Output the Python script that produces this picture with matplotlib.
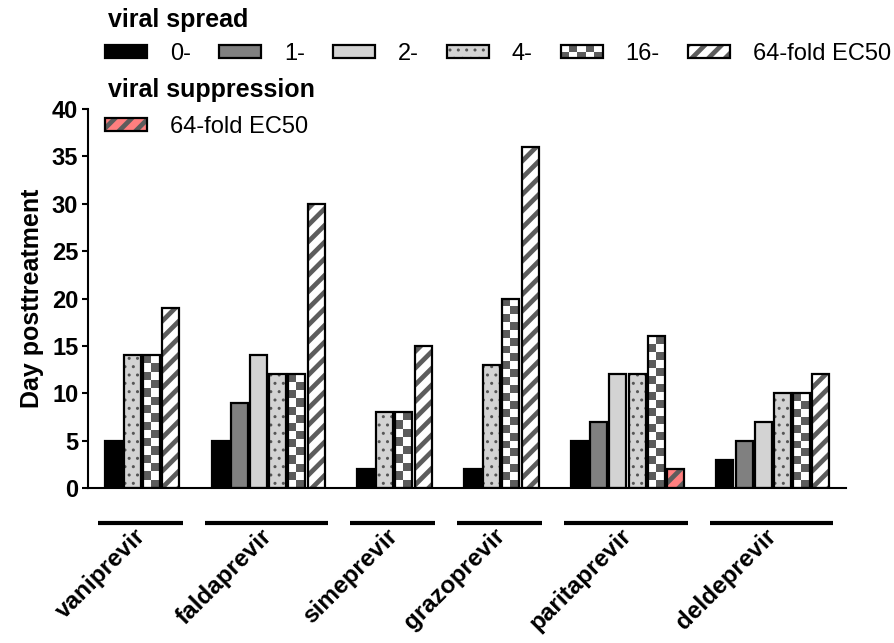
import matplotlib
matplotlib.use('Agg')
import matplotlib.pyplot as plt
import matplotlib.transforms as mtransforms
from matplotlib.colors import ListedColormap
from matplotlib.patches import Rectangle
from matplotlib.legend_handler import HandlerBase
import numpy as np

plt.rcParams['font.family'] = ['Liberation Sans', 'DejaVu Sans']

# ---------------- data ----------------
drugs = ['vaniprevir', 'faldaprevir', 'simeprevir', 'grazoprevir', 'paritaprevir', 'deldeprevir']
series_labels = ['0-', '1-', '2-', '4-', '16-', '64-fold EC50']
supp_label = '64-fold EC50'

spread_0 = [5, 5, 2, 2, 5, 3]
spread_1 = [None, 9, None, None, 7, 5]
spread_2 = [None, 14, None, None, 12, 7]
spread_4 = [14, 12, 8, 13, 12, 10]
spread_16 = [14, 12, 8, 20, 16, 10]
spread_64 = [19, 30, 15, 36, None, 12]
suppression_64 = [None, None, None, None, 2, None]

all_series = [spread_0, spread_1, spread_2, spread_4, spread_16, spread_64, suppression_64]

# ---------------- styles ----------------
DARK = '#5c5c5c'
styles = [
    dict(face='black'),
    dict(face='#808080'),
    dict(face='#d3d3d3'),
    dict(face='#d3d3d3', hatch='..', hc='#555555', hlw=1.0),
    dict(face='white', checker=True),
    dict(face='white', hatch='//', hc=DARK, hlw=3.4),
    dict(face='#ff7f7f', hatch='//', hc=DARK, hlw=3.4),
]

BAR_W = 0.885
GROUP_GAP = 1.59
EDGE_LW = 1.6


def set_hlw(p, lw):
    try:
        p.set_hatch_linewidth(lw)
    except Exception:
        pass


fig = plt.figure(figsize=(8.95, 6.43), dpi=100)
ax = fig.add_axes([88 / 895, 1 - 488 / 643, (846 - 88) / 895, (488 - 109) / 643])

group_spans = []
cursor = 0.0
for g in range(len(drugs)):
    start = cursor
    for s_idx, ser in enumerate(all_series):
        v = ser[g]
        if v is None:
            continue
        st = styles[s_idx]
        left = cursor
        if st.get('checker'):
            nrows = max(1, int(round(v / 0.85)))
            arr = (np.indices((nrows, 2)).sum(0) % 2)
            ax.imshow(arr, cmap=ListedColormap(['white', DARK]), origin='lower',
                      extent=(left, left + BAR_W, 0, v), aspect='auto',
                      interpolation='nearest', zorder=1)
        elif st.get('hatch'):
            bars = ax.bar(left, v, BAR_W, align='edge', color=st['face'],
                          edgecolor=st['hc'], linewidth=0, hatch=st['hatch'], zorder=1)
            for b in bars:
                set_hlw(b, st['hlw'])
        else:
            ax.bar(left, v, BAR_W, align='edge', color=st['face'], linewidth=0, zorder=1)
        ax.bar(left, v, BAR_W, align='edge', fill=False, edgecolor='black',
               linewidth=EDGE_LW, zorder=2)
        cursor += 1.0
    end = cursor - (1.0 - BAR_W)
    group_spans.append((start, end))
    cursor += GROUP_GAP

ax.set_xlim(-0.885, group_spans[-1][1] + 0.885)
ax.set_ylim(0, 40)
ax.set_yticks(range(0, 41, 5))
ax.set_xticks([])
for sp in ['top', 'right']:
    ax.spines[sp].set_visible(False)
for sp in ['left', 'bottom']:
    ax.spines[sp].set_linewidth(1.5)
ax.tick_params(axis='y', length=4, width=1.5, pad=3, labelsize=17)
for lab in ax.get_yticklabels():
    lab.set_fontweight('bold')
ax.set_ylabel('Day posttreatment', fontsize=18, fontweight='bold', labelpad=6)

trans = mtransforms.blended_transform_factory(ax.transData, ax.transAxes)
for (s, e), name in zip(group_spans, drugs):
    ax.plot([s - 0.35, e + 0.2], [-0.092, -0.092], transform=trans, color='black',
            lw=3, solid_capstyle='butt', clip_on=False)
    ax.text((s + e) / 2 + 0.0, -0.118, name, transform=trans, rotation=45,
            rotation_mode='anchor', ha='right', va='center', fontsize=17.5,
            fontweight='bold')


# ---------------- legend ----------------
class Swatch(HandlerBase):
    def __init__(self, st):
        super().__init__()
        self.st = st

    def create_artists(self, legend, orig_handle, xdescent, ydescent, width, height,
                       fontsize, trans):
        st = self.st
        x0, y0 = -xdescent, -ydescent
        arts = []
        if st.get('hatch'):
            base = Rectangle((x0, y0), width, height, facecolor=st['face'],
                             edgecolor=st['hc'], lw=0, hatch=st['hatch'], transform=trans)
            set_hlw(base, st['hlw'])
        else:
            base = Rectangle((x0, y0), width, height, facecolor=st['face'], lw=0,
                             transform=trans)
        arts.append(base)
        if st.get('checker'):
            nx, ny = 5, 2
            for i in range(nx):
                for j in range(ny):
                    if (i + j) % 2 == 0:
                        arts.append(Rectangle((x0 + i * width / nx, y0 + j * height / ny),
                                              width / nx, height / ny, facecolor=DARK,
                                              lw=0, transform=trans))
        arts.append(Rectangle((x0, y0), width, height, fill=False, edgecolor='black',
                              lw=EDGE_LW, transform=trans))
        return arts


leg_kw = dict(frameon=False, fontsize=17, handlelength=1.78, handleheight=0.51,
              handletextpad=0.97, columnspacing=1.19, borderpad=0, borderaxespad=0,
              loc='center left')

h_spread = [Rectangle((0, 0), 1, 1) for _ in series_labels]
hmap = {h: Swatch(styles[i]) for i, h in enumerate(h_spread)}
leg1 = fig.legend(h_spread, series_labels, ncol=6, handler_map=hmap,
                  bbox_to_anchor=(105 / 895, 1 - 54 / 643), **leg_kw)

h_supp = [Rectangle((0, 0), 1, 1)]
leg2 = fig.legend(h_supp, [supp_label], ncol=1, handler_map={h_supp[0]: Swatch(styles[6])},
                  bbox_to_anchor=(105 / 895, 1 - 127 / 643), **leg_kw)

fig.text(108 / 895, 1 - 20 / 643, 'viral spread', fontsize=18, fontweight='bold',
         va='center', ha='left')
fig.text(108 / 895, 1 - 90 / 643, 'viral suppression', fontsize=18, fontweight='bold',
         va='center', ha='left')

fig.savefig('out.png', dpi=100)
